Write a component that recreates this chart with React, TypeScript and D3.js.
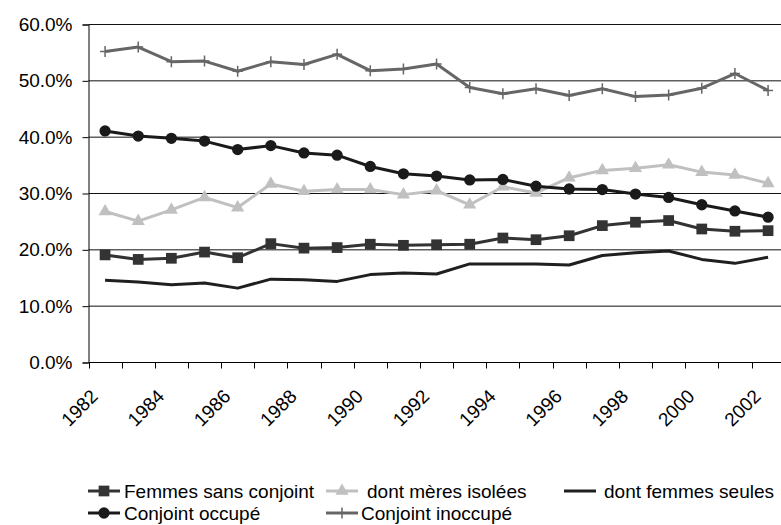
import React, { useRef, useEffect } from 'react';
import * as d3 from 'd3';

const years = d3.range(1982, 2003);
const tickYears = ['1982', '1984', '1986', '1988', '1990', '1992', '1994', '1996', '1998', '2000', '2002'];
const yTicks = [0, 0.1, 0.2, 0.3, 0.4, 0.5, 0.6];

const femmesSansConjoint = [19.1, 18.3, 18.5, 19.6, 18.6, 21.1, 20.3, 20.4, 21.0, 20.8, 20.9, 21.0, 22.1, 21.8, 22.5, 24.3, 24.9, 25.2, 23.7, 23.3, 23.4];
const meresIsolees = [26.8, 25.1, 27.1, 29.3, 27.5, 31.7, 30.4, 30.7, 30.7, 29.8, 30.5, 28.0, 31.2, 30.1, 32.8, 34.1, 34.5, 35.1, 33.8, 33.3, 31.8];
const femmesSeules = [14.6, 14.3, 13.8, 14.1, 13.2, 14.8, 14.7, 14.4, 15.6, 15.9, 15.7, 17.5, 17.5, 17.5, 17.3, 19.0, 19.5, 19.8, 18.3, 17.6, 18.7];
const conjointOccupe = [41.1, 40.2, 39.8, 39.3, 37.8, 38.5, 37.2, 36.8, 34.8, 33.5, 33.1, 32.4, 32.5, 31.3, 30.8, 30.7, 29.9, 29.3, 28.0, 26.9, 25.8];
const conjointInoccupe = [55.2, 56.0, 53.4, 53.5, 51.7, 53.4, 52.9, 54.7, 51.8, 52.1, 53.0, 48.8, 47.7, 48.6, 47.4, 48.6, 47.2, 47.5, 48.7, 51.3, 48.3];

const series = [
  { name: 'Femmes sans conjoint', values: femmesSansConjoint, color: '#333333', marker: 'square' },
  { name: 'dont mères isolées', values: meresIsolees, color: '#c0c0c0', marker: 'triangle' },
  { name: 'dont femmes seules', values: femmesSeules, color: '#1f1f1f', marker: 'none' },
  { name: 'Conjoint occupé', values: conjointOccupe, color: '#1a1a1a', marker: 'circle' },
  { name: 'Conjoint inoccupé', values: conjointInoccupe, color: '#666666', marker: 'plus' },
];

const font = '"Liberation Sans", Arial, sans-serif';

function markerPath(type) {
  if (type === 'square') return d3.symbol(d3.symbolSquare, 115)();
  if (type === 'triangle') return d3.symbol(d3.symbolTriangle, 75)();
  if (type === 'circle') return d3.symbol(d3.symbolCircle, 100)();
  if (type === 'plus') return 'M-5,0H5M0,-5.5V5.5';
  return null;
}

function drawMarker(g, type, color, x, y) {
  const p = markerPath(type);
  if (!p) return;
  const m = g.append('path')
    .attr('d', p)
    .attr('transform', `translate(${x},${y})`);
  if (type === 'plus') {
    m.attr('fill', 'none').attr('stroke', color).attr('stroke-width', 1.5);
  } else {
    m.attr('fill', color);
  }
}

function LineChart() {
  const svgRef = useRef(null);

  useEffect(() => {
    const svg = d3.select(svgRef.current);
    svg.selectAll('*').remove();

    const left = 88.5;
    const step = 33.15;

    const x = d3.scaleBand()
      .domain(years.map(String))
      .range([left, left + step * years.length]);

    const y = d3.scaleLinear()
      .domain([0, 0.6])
      .range([362.5, 24.5]);

    // grid
    svg.append('g')
      .selectAll('line')
      .data(yTicks.slice(1))
      .enter()
      .append('line')
      .attr('x1', left)
      .attr('x2', 781)
      .attr('y1', d => y(d))
      .attr('y2', d => y(d))
      .attr('stroke', '#111')
      .attr('stroke-width', 1);

    // y axis
    const yAxis = svg.append('g')
      .attr('transform', `translate(${left},0)`)
      .call(d3.axisLeft(y).tickValues(yTicks).tickFormat(d3.format('.1%')).tickSize(6).tickPadding(10));
    yAxis.select('.domain').attr('stroke', '#000');
    yAxis.selectAll('.tick line').attr('stroke', '#000');
    yAxis.selectAll('text')
      .attr('fill', '#000')
      .style('font-family', font)
      .style('font-size', '19px');

    // x axis
    const xAxis = svg.append('g')
      .attr('transform', `translate(0,${y(0)})`);
    xAxis.append('line')
      .attr('x1', left)
      .attr('x2', 781)
      .attr('stroke', '#000');
    xAxis.selectAll('.tk')
      .data(years)
      .enter()
      .append('line')
      .attr('x1', d => Math.round(x(String(d))) + 0.5)
      .attr('x2', d => Math.round(x(String(d))) + 0.5)
      .attr('y1', 0)
      .attr('y2', 6)
      .attr('stroke', '#000');
    xAxis.selectAll('text')
      .data(tickYears)
      .enter()
      .append('text')
      .text(d => d)
      .attr('text-anchor', 'end')
      .attr('transform', d => `translate(${x(d) + x.bandwidth() / 2 - 6},${35}) rotate(-45)`)
      .style('font-family', font)
      .style('font-size', '19px')
      .attr('fill', '#000');

    // series
    const cx = i => x(String(years[i])) + x.bandwidth() / 2;
    const line = d3.line()
      .x((d, i) => cx(i))
      .y(d => y(d / 100));

    series.forEach(s => {
      const g = svg.append('g');
      g.append('path')
        .datum(s.values)
        .attr('d', line)
        .attr('fill', 'none')
        .attr('stroke', s.color)
        .attr('stroke-width', 3)
        .attr('stroke-linejoin', 'round');
      s.values.forEach((v, i) => drawMarker(g, s.marker, s.color, cx(i), y(v / 100)));
    });

    // legend (two rows, positions are baseline-centre of the sample line)
    const legendPos = [
      [88, 491], [326, 491], [564, 491],
      [88, 513], [326, 513],
    ];
    const textGap = [4, 9, 8, 4, 3];
    series.forEach((s, i) => {
      const [lx, ly] = legendPos[i];
      const g = svg.append('g').attr('transform', `translate(${lx},${ly})`);
      g.append('line')
        .attr('x1', 0)
        .attr('x2', 32)
        .attr('stroke', s.color)
        .attr('stroke-width', 3);
      drawMarker(g, s.marker, s.color, 16, 0);
      g.append('text')
        .attr('x', 32 + textGap[i])
        .attr('dy', '0.36em')
        .text(s.name)
        .style('font-family', font)
        .style('font-size', '19px')
        .attr('fill', '#000');
    });
  }, []);

  return <svg ref={svgRef} width={781} height={525} style={{ position: 'absolute', left: 0, top: 0, display: 'block', background: '#fff' }}></svg>;
}

export default function App() {
  return <LineChart />;
}
